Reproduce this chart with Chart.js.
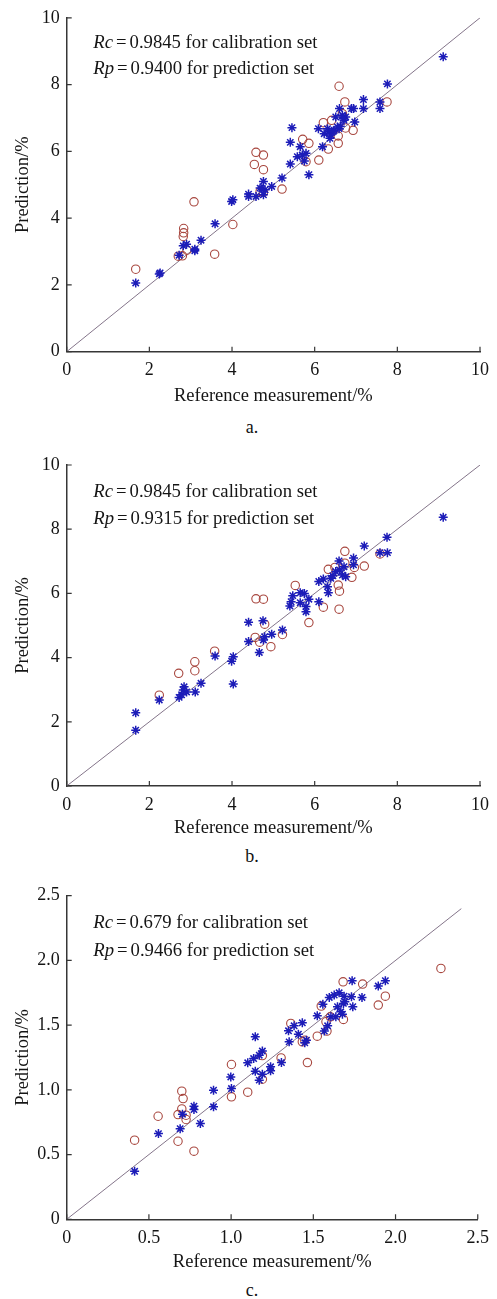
<!DOCTYPE html>
<html>
<head>
<meta charset="utf-8">
<script src="https://cdn.jsdelivr.net/npm/chart.js@4.4.1/dist/chart.umd.min.js"></script>
<style>
	body { margin: 0; background: #fff; width: 497px; height: 1299px; position: relative; overflow: hidden; }
	canvas { position: absolute; left: 0; }
	.caption { position: absolute; left: 0; width: 504px; text-align: center; line-height: 20px;
		font-size: 18px; font-family: "Liberation Serif", "DejaVu Serif", serif; color: #111; }
</style>
</head>
<body>
<canvas id="chartA" width="497" height="410" style="top:0px"></canvas>
<div class="caption" style="top:417px">a.</div>
<canvas id="chartB" width="497" height="402" style="top:440px"></canvas>
<div class="caption" style="top:846px">b.</div>
<canvas id="chartC" width="497" height="406" style="top:870px"></canvas>
<div class="caption" style="top:1280px">c.</div>

<script>
var SERIF = '"Liberation Serif", "DejaVu Serif", serif';
var AXIS_COLOR = "#363636";
var CAL_COLOR = "#1c1cb8";
var PRED_COLOR = "#a8473f";
var FIT_COLOR = "#84758a";

// a. calibration (asterisks) and prediction (circles) sets
var aCalRef  = [1.67, 2.24, 2.26, 2.72, 2.82, 2.9, 3.1, 3.1, 3.25, 3.59, 3.99, 4.02, 4.4, 4.4, 4.58, 4.68, 4.76, 4.76, 4.96, 5.21,
                5.41, 5.41, 5.45, 5.58, 5.65, 5.7, 5.79, 5.75, 5.86, 6.09, 6.19, 6.23, 6.31, 6.35, 6.39, 6.37, 6.47, 6.51, 6.55, 6.59,
                6.6, 6.67, 6.71, 6.75, 6.89, 6.94, 6.97, 7.18, 7.18, 7.58, 7.58, 7.76, 9.11, 4.72, 4.8, 6.45, 6.62, 6.7];
var aCalPred = [2.06, 2.33, 2.36, 2.89, 3.17, 3.22, 3.07, 3.02, 3.34, 3.83, 4.5, 4.55, 4.72, 4.65, 4.65, 4.9, 5.1, 4.7, 4.95, 5.2,
                5.62, 6.27, 6.71, 5.84, 6.14, 5.89, 5.94, 5.71, 5.3, 6.68, 6.14, 6.53, 6.68, 6.58, 6.49, 6.39, 6.63, 7.03, 6.73, 6.68,
                7.28, 7.08, 6.93, 7.03, 7.28, 7.28, 6.88, 7.55, 7.28, 7.48, 7.28, 8.02, 8.83, 4.88, 4.85, 6.6, 6.75, 6.98];
var aValRef  = [1.67, 2.7, 2.8, 2.83, 2.83, 2.82, 2.91, 3.08, 3.58, 4.02, 4.54, 4.58, 4.76, 4.76, 4.68, 4.76, 5.21, 5.71, 5.86, 5.79,
                6.1, 6.21, 6.33, 6.41, 6.59, 6.57, 6.57, 6.73, 6.75, 6.67, 6.93, 7.75];
var aValPred = [2.47, 2.86, 2.87, 3.69, 3.56, 3.45, 3.04, 4.49, 2.92, 3.81, 5.61, 5.97, 5.89, 5.45, 4.8, 4.78, 4.87, 6.36, 6.24, 5.69,
                5.74, 6.86, 6.07, 6.93, 7.95, 6.46, 6.24, 7.48, 6.7, 7.13, 6.63, 7.48];

// b.
var bCalRef  = [1.67, 1.67, 2.24, 2.72, 2.78, 2.82, 2.84, 2.9, 3.11, 3.25, 3.59, 3.99, 4.03, 4.03, 4.4, 4.4, 4.66, 4.75, 4.76, 4.79,
                4.96, 5.22, 5.4, 5.43, 5.47, 5.65, 5.65, 5.75, 5.79, 5.79, 5.86, 6.1, 6.1, 6.21, 6.31, 6.33, 6.39, 6.44, 6.51, 6.59,
                6.6, 6.67, 6.71, 6.75, 6.94, 6.94, 7.2, 7.58, 7.76, 7.75, 9.11];
var bCalPred = [2.28, 1.74, 2.68, 2.76, 2.84, 2.99, 3.09, 2.93, 2.93, 3.2, 4.05, 3.89, 4.03, 3.18, 5.1, 4.5, 4.16, 5.15, 4.55, 4.65,
                4.73, 4.86, 5.61, 5.74, 5.93, 6.02, 5.71, 6.0, 5.59, 5.43, 5.82, 6.37, 5.74, 6.45, 6.21, 6.02, 6.47, 6.55, 6.68, 7.01,
                6.73, 6.57, 6.83, 6.52, 7.1, 6.89, 7.48, 7.27, 7.27, 7.75, 8.37];
var bValRef  = [2.24, 2.71, 3.1, 3.1, 3.58, 4.58, 4.76, 4.56, 4.67, 4.79, 4.94, 5.22, 5.53, 5.86, 6.21, 6.33, 6.49, 6.59, 6.6, 6.57,
                6.73, 6.73, 6.9, 6.96, 7.2, 7.58];
var bValPred = [2.83, 3.51, 3.87, 3.59, 4.2, 5.83, 5.82, 4.63, 4.48, 5.04, 4.34, 4.72, 6.25, 5.09, 5.57, 6.75, 6.81, 5.51, 6.07, 6.26,
                7.31, 6.94, 6.5, 6.81, 6.85, 7.23];

// c.
var cCalRef  = [0.413, 0.558, 0.69, 0.704, 0.774, 0.774, 0.813, 0.893, 0.893, 0.998, 1.002, 1.101, 1.137, 1.147, 1.147, 1.171, 1.171,
                1.19, 1.19, 1.24, 1.24, 1.306, 1.349, 1.353, 1.383, 1.409, 1.433, 1.448, 1.458, 1.524, 1.558, 1.567, 1.587, 1.597,
                1.607, 1.627, 1.637, 1.647, 1.657, 1.667, 1.677, 1.683, 1.687, 1.692, 1.732, 1.736, 1.74, 1.796, 1.895, 1.938];
var cCalPred = [0.371, 0.662, 0.70, 0.812, 0.874, 0.848, 0.74, 0.997, 0.869, 1.10, 1.01, 1.209, 1.242, 1.41, 1.144, 1.268, 1.075,
                1.30, 1.12, 1.178, 1.147, 1.211, 1.456, 1.371, 1.495, 1.43, 1.518, 1.363, 1.384, 1.572, 1.662, 1.454, 1.495, 1.714,
                1.564, 1.732, 1.564, 1.642, 1.75, 1.603, 1.585, 1.668, 1.724, 1.68, 1.719, 1.843, 1.642, 1.714, 1.802, 1.843];
var cValRef  = [0.413, 0.556, 0.677, 0.677, 0.70, 0.708, 0.70, 0.726, 0.726, 0.774, 1.002, 1.002, 1.101, 1.19, 1.19, 1.304, 1.363,
                1.433, 1.448, 1.464, 1.524, 1.548, 1.577, 1.583, 1.603, 1.681, 1.683, 1.80, 1.895, 1.938, 2.276];
var cValPred = [0.611, 0.796, 0.809, 0.603, 0.99, 0.933, 0.853, 0.804, 0.771, 0.526, 1.196, 0.946, 0.982, 1.265, 1.082, 1.247, 1.513,
                1.371, 1.384, 1.211, 1.415, 1.647, 1.526, 1.454, 1.564, 1.835, 1.544, 1.817, 1.655, 1.724, 1.938];

var ticksAB = ["0", "2", "4", "6", "8", "10"];
var ticksC  = ["0", "0.5", "1.0", "1.5", "2.0", "2.5"];

var rcA = "0.9845", rpA = "0.9400";
var rcB = "0.9845", rpB = "0.9315";
var rcC = "0.679",  rpC = "0.9466";

function toPoints(xs, ys) {
	var pts = [];
	for (var i = 0; i < xs.length; i++) {
		pts.push({ x: xs[i], y: ys[i] });
	}
	return pts;
}

// tick marks pointing into the plot area
var innerTicks = {
	id: "innerTicks",
	afterDatasetsDraw: function(chart) {
		var ctx = chart.ctx, area = chart.chartArea;
		var sx = chart.scales.x, sy = chart.scales.y;
		ctx.save();
		ctx.strokeStyle = AXIS_COLOR;
		ctx.lineWidth = 1.2;
		ctx.beginPath();
		sx.ticks.forEach(function(t) {
			var px = sx.getPixelForValue(t.value);
			ctx.moveTo(px, area.bottom);
			ctx.lineTo(px, area.bottom - 5);
		});
		sy.ticks.forEach(function(t) {
			var py = sy.getPixelForValue(t.value);
			ctx.moveTo(area.left, py);
			ctx.lineTo(area.left + 5, py);
		});
		ctx.stroke();
		ctx.restore();
	}
};

// "Rc = ... / Rp = ..." note in the upper left corner
var fitNote = {
	id: "fitNote",
	afterDraw: function(chart, args, opts) {
		var ctx = chart.ctx, area = chart.chartArea;
		var lines = [["Rc", opts.rc + " for calibration set"], ["Rp", opts.rp + " for prediction set"]];
		ctx.save();
		ctx.fillStyle = "#151515";
		ctx.textBaseline = "alphabetic";
		for (var i = 0; i < lines.length; i++) {
			var x = area.left + opts.dx;
			var y = area.top + opts.dy[i];
			ctx.font = "italic 18.7px " + SERIF;
			ctx.fillText(lines[i][0], x, y);
			x += ctx.measureText(lines[i][0]).width + 3;
			ctx.font = "18.7px " + SERIF;
			ctx.fillText("=", x, y);
			x += ctx.measureText("=").width + 3;
			ctx.fillText(lines[i][1], x, y);
		}
		ctx.restore();
	}
};

function buildPanel(canvasId, p) {
	var tickFont = { family: SERIF, size: 18 };
	return new Chart(document.getElementById(canvasId), {
		type: "scatter",
		data: {
			datasets: [{
				type: "line",
				data: [{ x: 0, y: 0 }, { x: p.lineEnd, y: p.lineEnd }],
				borderColor: FIT_COLOR,
				borderWidth: 1,
				pointRadius: 0,
				order: 3
			}, {
				data: toPoints(p.valRef, p.valPred),
				pointStyle: "circle",
				pointRadius: 4.2,
				borderWidth: 1.1,
				borderColor: PRED_COLOR,
				backgroundColor: "rgba(0,0,0,0)",
				order: 2
			}, {
				data: toPoints(p.calRef, p.calPred),
				pointStyle: "star",
				pointRadius: 4.5,
				borderWidth: 1.5,
				borderColor: CAL_COLOR,
				backgroundColor: CAL_COLOR,
				order: 1
			}]
		},
		options: {
			responsive: false,
			animation: false,
			events: [],
			layout: { padding: { left: 0, right: 10.3, top: p.top, bottom: 0 } },
			plugins: {
				legend: { display: false },
				tooltip: { enabled: false },
				fitNote: { rc: p.rc, rp: p.rp, dx: 26.6, dy: p.noteY }
			},
			scales: {
				x: {
					type: "linear",
					min: 0, max: p.max,
					afterFit: function(scale) { scale.height = p.bottom; },
					ticks: {
						stepSize: p.step, padding: 8, color: "#151515", font: tickFont, maxRotation: 0,
						callback: function(v, i) { return p.labels[i]; }
					},
					grid: { display: false, drawTicks: false },
					border: { display: true, color: AXIS_COLOR, width: 1.5 },
					title: { display: true, text: "Reference measurement/%", color: "#151515",
						font: { family: SERIF, size: 18.5 }, padding: { top: 0, bottom: 3 } }
				},
				y: {
					type: "linear",
					min: 0, max: p.max,
					afterFit: function(scale) { scale.width = 66.7; },
					ticks: {
						stepSize: p.step, padding: 7, color: "#151515", font: tickFont,
						callback: function(v, i) { return p.labels[i]; }
					},
					grid: { display: false, drawTicks: false },
					border: { display: true, color: AXIS_COLOR, width: 1.5 },
					title: { display: true, text: "Prediction/%", color: "#151515",
						font: { family: SERIF, size: 18.5 }, padding: { top: 12, bottom: 0 } }
				}
			}
		},
		plugins: [innerTicks, fitNote]
	});
}

var chartA = buildPanel("chartA", {
	calRef: aCalRef, calPred: aCalPred, valRef: aValRef, valPred: aValPred,
	max: 10, step: 2, labels: ticksAB, lineEnd: 10, rc: rcA, rp: rpA,
	top: 15, bottom: 58.3, noteY: [30, 56]
});
var chartB = buildPanel("chartB", {
	calRef: bCalRef, calPred: bCalPred, valRef: bValRef, valPred: bValPred,
	max: 10, step: 2, labels: ticksAB, lineEnd: 10, rc: rcB, rp: rpB,
	top: 25, bottom: 56, noteY: [32.3, 59]
});
var chartC = buildPanel("chartC", {
	calRef: cCalRef, calPred: cCalPred, valRef: cValRef, valPred: cValPred,
	max: 2.5, step: 0.5, labels: ticksC, lineEnd: 2.4, rc: rcC, rp: rpC,
	top: 25.7, bottom: 56.7, noteY: [32.6, 60]
});
</script>
</body>
</html>
